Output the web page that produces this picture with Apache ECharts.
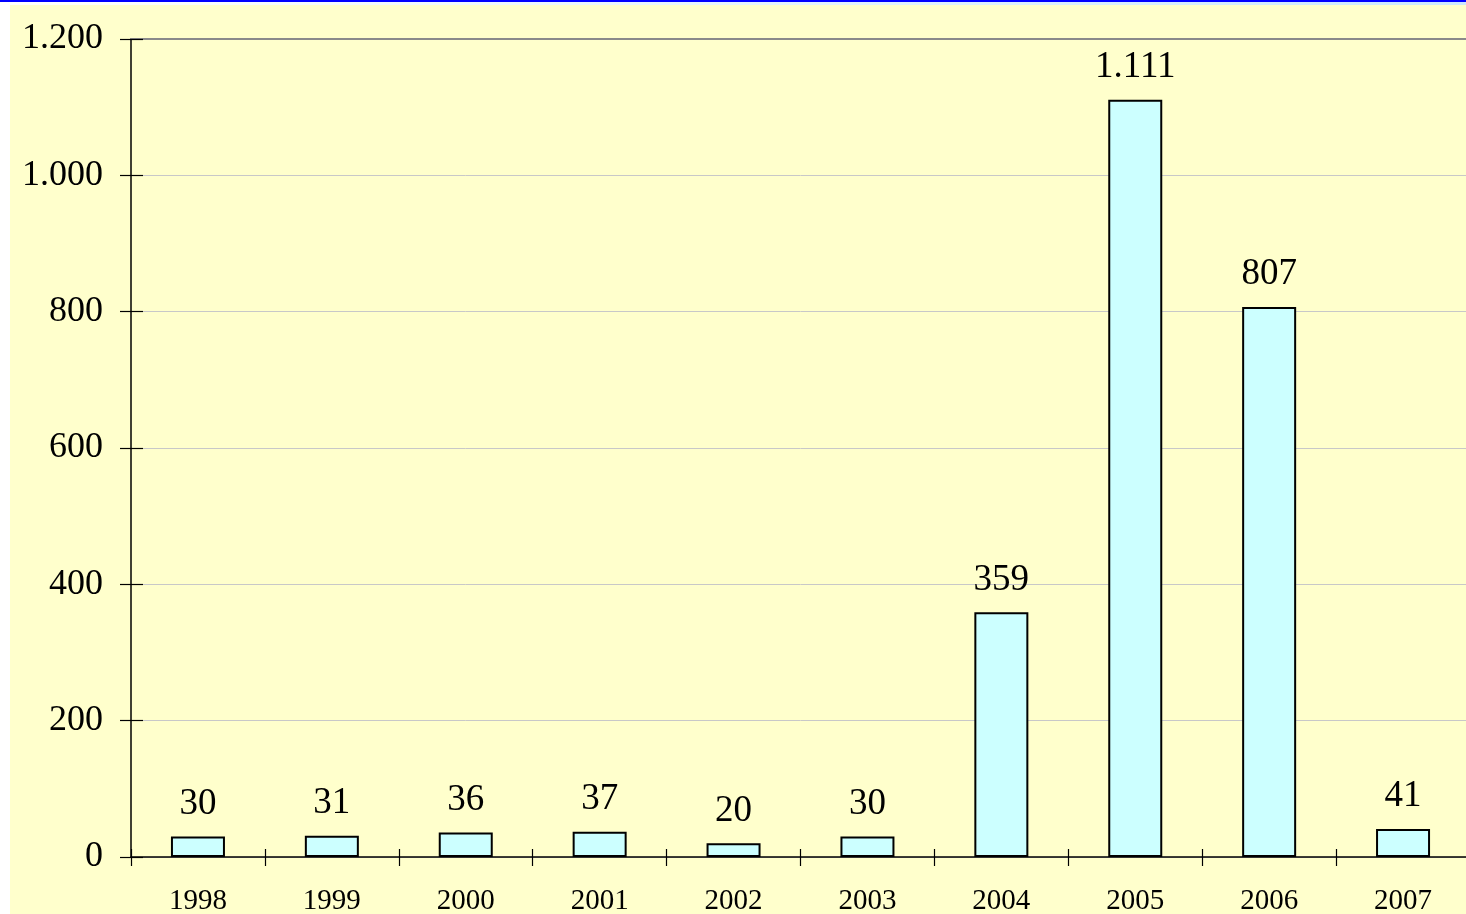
<!DOCTYPE html>
<html>
<head>
<meta charset="utf-8">
<script src="https://cdn.jsdelivr.net/npm/echarts@6/dist/echarts.min.js"></script>
<style>
html,body{margin:0;padding:0;background:#ffffff;width:1466px;height:914px;overflow:hidden;}
#topbar{position:absolute;left:0;top:0;width:1466px;height:2px;background:#0000ff;z-index:2;}
#topstrip{position:absolute;left:0;top:2px;width:1466px;height:3px;background:linear-gradient(to right,#ffffff,#cce8ff);z-index:2;}
#wrap{position:absolute;left:10px;top:5px;width:1456px;height:909px;overflow:hidden;}
#chart{position:absolute;left:0;top:0;width:1470px;height:909px;}
</style>
</head>
<body>
<div id="topbar"></div>
<div id="topstrip"></div>
<div id="wrap"><div id="chart"></div></div>
<script>
var categories = ['1998','1999','2000','2001','2002','2003','2004','2005','2006','2007'];
var values = [30, 31, 36, 37, 20, 30, 359, 1111, 807, 41];
var yTicks = [0, 200, 400, 600, 800, 1000, 1200];

function fmt(v) {
  return String(v).replace(/\B(?=(\d{3})+(?!\d))/g, '.');
}

var FONT = '"Liberation Serif", "Times New Roman", serif';
var chart = echarts.init(document.getElementById('chart'), null, {renderer: 'canvas', width: 1470, height: 909});
var yMin = yTicks[0], yMax = yTicks[yTicks.length - 1], yInt = yTicks[1] - yTicks[0];

chart.setOption({
  backgroundColor: '#FFFFCC',
  animation: false,
  grid: {left: 121, top: 34, right: 10, bottom: 57, containLabel: false, outerBoundsMode: 'none'},
  xAxis: [
    {
      type: 'category', data: categories, position: 'bottom',
      axisLine: {show: true, lineStyle: {color: '#000', width: 1.5}},
      axisTick: {show: true, inside: false, length: 9, lineStyle: {color: '#000', width: 1.2}},
      axisLabel: {color: '#000', fontFamily: FONT, fontSize: 29, margin: 30},
      splitLine: {show: false}
    },
    {
      type: 'category', data: categories, position: 'bottom',
      axisLine: {show: false},
      axisTick: {show: true, inside: true, length: 8, lineStyle: {color: '#000', width: 1.2}},
      axisLabel: {show: false},
      splitLine: {show: false}
    },
    {
      type: 'category', data: categories, position: 'top',
      axisLine: {show: true, lineStyle: {color: '#8a8a8a', width: 2}},
      axisTick: {show: false},
      axisLabel: {show: false},
      splitLine: {show: false}
    }
  ],
  yAxis: [
    {
      type: 'value', min: yMin, max: yMax, interval: yInt, position: 'left',
      axisLine: {show: true, lineStyle: {color: '#000', width: 1.5}},
      axisTick: {show: true, inside: false, length: 11, lineStyle: {color: '#000', width: 1.2}},
      axisLabel: {color: '#000', fontFamily: FONT, fontSize: 36, margin: 28, formatter: fmt},
      splitLine: {show: true, lineStyle: {color: '#c8c8c8', width: 1}}
    },
    {
      type: 'value', min: yMin, max: yMax, interval: yInt, position: 'left',
      axisLine: {show: false},
      axisTick: {show: true, inside: true, length: 12, lineStyle: {color: '#000', width: 1.2}},
      axisLabel: {show: false},
      splitLine: {show: false}
    }
  ],
  series: [{
    type: 'bar',
    data: values,
    xAxisIndex: 0,
    yAxisIndex: 0,
    barWidth: 54,
    itemStyle: {color: '#CCFFFF', borderColor: '#000', borderWidth: 2},
    label: {
      show: true, position: 'top', distance: 14,
      color: '#000', fontFamily: FONT, fontSize: 37,
      formatter: function (p) { return fmt(p.value); }
    }
  }]
});
</script>
</body>
</html>
